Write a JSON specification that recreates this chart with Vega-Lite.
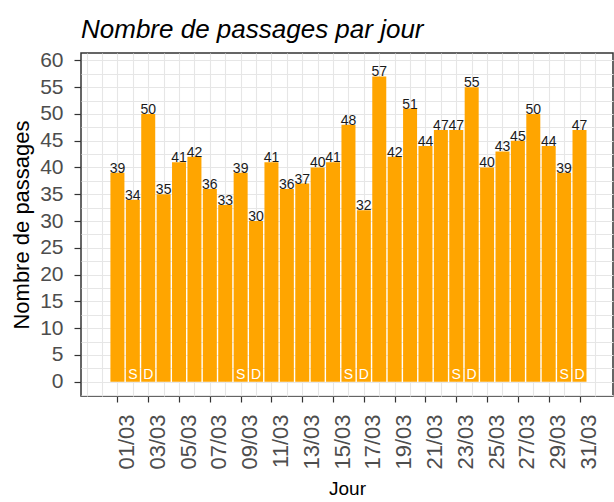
{
  "$schema": "https://vega.github.io/schema/vega-lite/v6.json",
  "autosize": "none",
  "width": 532,
  "height": 343,
  "padding": {"left": 81, "top": 53, "right": 1, "bottom": 106},
  "background": "white",
  "title": {"text": "Nombre de passages par jour", "anchor": "start", "frame": "group", "font": "Liberation Sans", "fontSize": 26, "fontStyle": "italic", "fontWeight": "normal", "color": "#000000", "baseline": "alphabetic", "offset": 16, "dy": 31},
  "config": {"view": {"stroke": "#333333", "strokeWidth": 1.5}, "font": "Liberation Sans"},
  "data": {"values": [
    {"day": 1, "n": 39, "wd": ""},
    {"day": 2, "n": 34, "wd": "S"},
    {"day": 3, "n": 50, "wd": "D"},
    {"day": 4, "n": 35, "wd": ""},
    {"day": 5, "n": 41, "wd": ""},
    {"day": 6, "n": 42, "wd": ""},
    {"day": 7, "n": 36, "wd": ""},
    {"day": 8, "n": 33, "wd": ""},
    {"day": 9, "n": 39, "wd": "S"},
    {"day": 10, "n": 30, "wd": "D"},
    {"day": 11, "n": 41, "wd": ""},
    {"day": 12, "n": 36, "wd": ""},
    {"day": 13, "n": 37, "wd": ""},
    {"day": 14, "n": 40, "wd": ""},
    {"day": 15, "n": 41, "wd": ""},
    {"day": 16, "n": 48, "wd": "S"},
    {"day": 17, "n": 32, "wd": "D"},
    {"day": 18, "n": 57, "wd": ""},
    {"day": 19, "n": 42, "wd": ""},
    {"day": 20, "n": 51, "wd": ""},
    {"day": 21, "n": 44, "wd": ""},
    {"day": 22, "n": 47, "wd": ""},
    {"day": 23, "n": 47, "wd": "S"},
    {"day": 24, "n": 55, "wd": "D"},
    {"day": 25, "n": 40, "wd": ""},
    {"day": 26, "n": 43, "wd": ""},
    {"day": 27, "n": 45, "wd": ""},
    {"day": 28, "n": 50, "wd": ""},
    {"day": 29, "n": 44, "wd": ""},
    {"day": 30, "n": 39, "wd": "S"},
    {"day": 31, "n": 47, "wd": "D"}
  ]},
  "encoding": {
    "x": {
      "field": "day", "type": "quantitative",
      "scale": {"domain": [-1.04, 32.85], "nice": false, "zero": false},
      "axis": {
        "values": [-1,0,1,2,3,4,5,6,7,8,9,10,11,12,13,14,15,16,17,18,19,20,21,22,23,24,25,26,27,28,29,30,31,32],
        "labelExpr": "datum.value >= 1 && datum.value <= 31 && datum.value % 2 == 1 ? (datum.value < 10 ? '0' : '') + datum.value + '/03' : ''",
        "labelAngle": 270,
        "labelAlign": "right",
        "labelBaseline": "middle",
        "labelFontSize": 22,
        "labelColor": "#4d4d4d",
        "labelPadding": 12,
        "labelOffset": 9,
        "labelOverlap": false,
        "labelFlush": false,
        "labelBound": false,
        "tickColor": "#333333",
        "tickWidth": 1.2,
        "tickSize": 6,
        "tickOpacity": {"condition": {"test": "datum.value >= 1 && datum.value <= 31 && datum.value % 2 == 1", "value": 1}, "value": 0},
        "grid": true,
        "gridColor": "#e6e6e6",
        "gridWidth": 1.1,
        "domain": false,
        "title": "Jour",
        "titleFontSize": 19,
        "titleFontWeight": "normal",
        "titleColor": "#000000",
        "titlePadding": 10
      }
    },
    "y": {
      "field": "n", "type": "quantitative",
      "scale": {"domain": [-2.67, 61.38], "nice": false, "zero": false},
      "axis": {
        "values": [-2.5,0,2.5,5,7.5,10,12.5,15,17.5,20,22.5,25,27.5,30,32.5,35,37.5,40,42.5,45,47.5,50,52.5,55,57.5,60],
        "labelExpr": "datum.value >= 0 && datum.value % 5 == 0 ? '' + datum.value : ''",
        "labelFontSize": 21,
        "labelColor": "#4d4d4d",
        "labelPadding": 11,
        "labelOverlap": false,
        "labelFlush": false,
        "labelBound": false,
        "tickColor": "#333333",
        "tickWidth": 1.2,
        "tickSize": 7,
        "tickOpacity": {"condition": {"test": "datum.value >= 0 && datum.value % 5 == 0", "value": 1}, "value": 0},
        "grid": true,
        "gridColor": "#e6e6e6",
        "gridWidth": 1.1,
        "domain": false,
        "title": "Nombre de passages",
        "titleFontSize": 22,
        "titleFontWeight": "normal",
        "titleColor": "#000000",
        "titlePadding": 6
      }
    }
  },
  "layer": [
    {
      "mark": {"type": "bar", "size": 14, "color": "#FFA500"},
      "encoding": {
        "y2": {"datum": 0}
      }
    },
    {
      "mark": {"type": "text", "baseline": "bottom", "dy": 3, "fontSize": 14, "color": "#1a1a1a"},
      "encoding": {
        "text": {"field": "n", "type": "quantitative"}
      }
    },
    {
      "transform": [{"filter": "datum.wd != ''"}],
      "mark": {"type": "text", "baseline": "bottom", "dy": 0, "fontSize": 14, "color": "#ffffff"},
      "encoding": {
        "y": {"datum": 0, "type": "quantitative"},
        "text": {"field": "wd", "type": "nominal"}
      }
    }
  ]
}
